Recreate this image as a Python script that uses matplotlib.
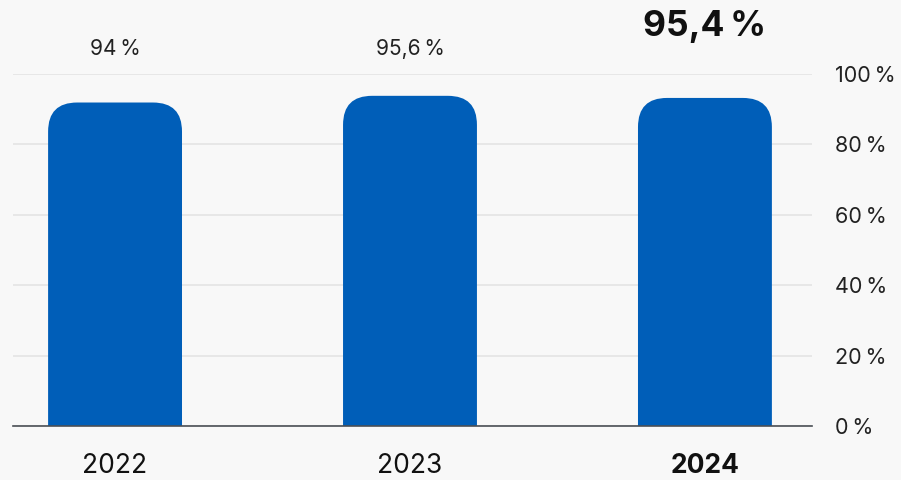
import matplotlib.pyplot as plt
from matplotlib.patches import FancyBboxPatch

plt.rcParams['font.family'] = ['Inter', 'DejaVu Sans']

years = ['2022', '2023', '2024']
bar_values = [91.9, 93.8, 93.2]  # bar heights as drawn
value_labels = ['94\u2009%', '95,6\u2009%', '95,4\u2009%']
y_ticks = [0, 20, 40, 60, 80, 100]
y_tick_labels = ['0\u2009%', '20\u2009%', '40\u2009%', '60\u2009%', '80\u2009%', '100\u2009%']

bg = '#f8f8f8'
blue = '#005eb8'

fig = plt.figure(figsize=(9.01, 4.80), dpi=100, facecolor=bg)
W, H = 901, 480
ax = fig.add_axes([13 / W, (H - 426) / H, (812 - 13) / W, (426 - 74) / H])
ax.set_facecolor(bg)

x0, x1 = -0.346, 2.363
ax.set_xlim(x0, x1)
ax.set_ylim(0, 100)

# rounded top bars (bottom corners hidden below the baseline)
bw = 0.454
px_x = (x1 - x0) / (812 - 13)
px_y = 100 / (426 - 74)
radius = 29 * px_x
for i, v in enumerate(bar_values):
    p = FancyBboxPatch((i - bw / 2, -20), bw, v + 20,
                       boxstyle='round,pad=0,rounding_size=%f' % radius,
                       mutation_aspect=px_y / px_x,
                       facecolor=blue, edgecolor='none', zorder=3)
    ax.add_patch(p)

# value labels above the plot
for i, lab in enumerate(value_labels):
    if i == len(value_labels) - 1:
        ax.text(i, 113.6, lab, ha='center', va='center', fontsize=25.5,
                fontweight='bold', color='#111111', clip_on=False)
    else:
        ax.text(i, 107.0, lab, ha='center', va='center', fontsize=15,
                color='#222222', clip_on=False)

ax.yaxis.tick_right()
ax.set_yticks(y_ticks)
ax.set_yticklabels(y_tick_labels)
ax.set_xticks(range(len(years)))
ax.set_xticklabels(years)
ax.get_xticklabels()[-1].set_fontweight('bold')
ax.tick_params(axis='y', length=0, pad=16.5, labelsize=15.5, labelcolor='#222222')
ax.tick_params(axis='x', length=0, pad=19.5, labelsize=19, labelcolor='#111111')
for lbl in ax.get_yticklabels():
    lbl.set_horizontalalignment('left')

ax.grid(axis='y', color='#e4e4e4', linewidth=1.2, zorder=0)
ax.grid(axis='x', visible=False)
for s in ['top', 'left', 'right']:
    ax.spines[s].set_visible(False)
ax.spines['bottom'].set_color('#4a4f55')
ax.spines['bottom'].set_linewidth(1.2)
ax.spines['bottom'].set_zorder(4)

fig.savefig('out.png', dpi=100, facecolor=bg)
